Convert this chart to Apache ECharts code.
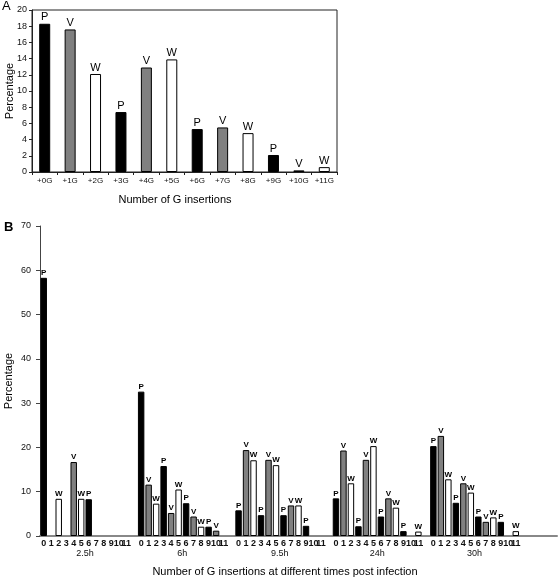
<!DOCTYPE html>
<html>
<head>
<meta charset="utf-8">
<script src="https://cdn.jsdelivr.net/npm/echarts@6/dist/echarts.min.js"></script>
<style>
html,body{margin:0;padding:0;background:#fff;}
#c{width:560px;height:583px;}
</style>
</head>
<body>
<div id="c"></div>
<script>
// ---- Data ----
var topCategories = ['+0G','+1G','+2G','+3G','+4G','+5G','+6G','+7G','+8G','+9G','+10G','+11G'];
var topValues = [18.3, 17.6, 12.1, 7.4, 12.9, 13.9, 5.3, 5.5, 4.8, 2.1, 0.2, 0.6];
var insertionTypes = ['P','V','W','P','V','W','P','V','W','P','V','W'];
var insertionTicks = ['0','1','2','3','4','5','6','7','8','9','10','11'];
var timeLabels = ['2.5h','6h','9.5h','24h','30h'];
var values2_5h = [58.3, null, 8.4, null, 16.7, 8.4, 8.3, null, null, null, null, null];
var values6h   = [32.6, 11.6, 7.3, 15.8, 5.2, 10.5, 7.4, 4.4, 2.1, 2.1, 1.2, null];
var values9_5h = [5.8, 19.4, 17.1, 4.7, 17.2, 16.0, 4.7, 6.9, 6.9, 2.3, null, null];
var values24h  = [8.5, 19.3, 11.9, 2.2, 17.2, 20.3, 4.4, 8.5, 6.4, 1.1, null, 1.0];
var values30h  = [20.3, 22.6, 12.8, 7.5, 11.9, 9.8, 4.4, 3.2, 4.2, 3.2, null, 1.1];
var topTicksY = {min: 0, max: 20, interval: 2};
var bottomTicksY = {min: 0, max: 70, interval: 10};

// ---- Build ----
var FONT = '"Liberation Sans", Arial, sans-serif';
var typeColor = {P: '#000000', V: '#808080', W: '#ffffff'};
var groups = [values2_5h, values6h, values9_5h, values24h, values30h];
var TRAIL = 5;

function item(v, t) {
  if (v === null) return '-';
  return {value: v, itemStyle: {color: typeColor[t], borderColor: '#000', borderWidth: 1}};
}

var topData = topValues.map(function (v, i) { return item(v, insertionTypes[i]); });

var bottomCats = [], bottomData = [], bottomTypes = [];
groups.forEach(function (g, gi) {
  g.forEach(function (v, i) {
    bottomCats.push(insertionTicks[i]);
    bottomData.push(item(v, insertionTypes[i]));
    bottomTypes.push(insertionTypes[i]);
  });
  if (gi < groups.length - 1) { bottomCats.push(''); bottomData.push('-'); bottomTypes.push(''); }
});
for (var k = 0; k < TRAIL; k++) { bottomCats.push(''); bottomData.push('-'); bottomTypes.push(''); }

// group label axis (boundaryGap false, half-category resolution)
var nCat = bottomCats.length;
var groupAxisData = [];
for (var j = 0; j <= nCat * 2; j++) groupAxisData.push('');
timeLabels.forEach(function (t, gi) { groupAxisData[26 * gi + 12] = t; });

var chart = echarts.init(document.getElementById('c'), null, {renderer: 'canvas'});
chart.setOption({
  animation: false,
  backgroundColor: '#fff',
  textStyle: {fontFamily: FONT},
  title: [
    {text: 'A', left: 2, top: 0, padding: 0, textStyle: {fontSize: 13, fontWeight: 'normal', color: '#000', fontFamily: FONT}},
    {text: 'B', left: 4, top: 221, padding: 0, textStyle: {fontSize: 13, fontWeight: 'bold', color: '#000', fontFamily: FONT}},
    {text: 'Number of G insertions', left: 175, top: 194, padding: 0, textAlign: 'center',
      textStyle: {fontSize: 11, fontWeight: 'normal', color: '#000', fontFamily: FONT}},
    {text: 'Number of G insertions at different times post infection', left: 285, top: 566, padding: 0, textAlign: 'center',
      textStyle: {fontSize: 11, fontWeight: 'normal', color: '#000', fontFamily: FONT}}
  ],
  grid: [
    {left: 32, top: 10, width: 305, height: 162, show: true, borderColor: '#222', borderWidth: 1,
      backgroundColor: 'transparent', outerBoundsMode: 'none', containLabel: false},
    {left: 40, top: 226, width: 517, height: 310, outerBoundsMode: 'none', containLabel: false}
  ],
  xAxis: [
    {type: 'category', gridIndex: 0, data: topCategories,
      axisLine: {lineStyle: {color: '#222', width: 1}},
      axisTick: {show: true, length: 3, lineStyle: {color: '#222'}},
      axisLabel: {interval: 0, fontSize: 8, color: '#111', margin: 5}},
    {type: 'category', gridIndex: 1, data: bottomCats,
      axisLine: {lineStyle: {color: '#888', width: 2}},
      axisTick: {show: false},
      axisLabel: {interval: 0, fontSize: 9, fontWeight: 'bold', color: '#111', margin: 3}},
    {type: 'category', gridIndex: 1, data: groupAxisData, boundaryGap: false, position: 'bottom',
      axisLine: {show: false}, axisTick: {show: false},
      axisLabel: {interval: 0, fontSize: 9, color: '#111', margin: 13}}
  ],
  yAxis: [
    {type: 'value', gridIndex: 0, min: topTicksY.min, max: topTicksY.max, interval: topTicksY.interval,
      name: 'Percentage', nameLocation: 'middle', nameGap: 17, nameMoveOverlap: false,
      nameTextStyle: {fontSize: 11, color: '#000'},
      axisLine: {show: true, lineStyle: {color: '#222'}},
      axisTick: {show: true, length: 3, lineStyle: {color: '#222'}},
      axisLabel: {fontSize: 9, color: '#111', margin: 5},
      splitLine: {show: false}},
    {type: 'value', gridIndex: 1, min: bottomTicksY.min, max: bottomTicksY.max, interval: bottomTicksY.interval,
      name: 'Percentage', nameLocation: 'middle', nameGap: 26, nameMoveOverlap: false,
      nameTextStyle: {fontSize: 11, color: '#000'},
      axisLine: {show: true, lineStyle: {color: '#444'}},
      axisTick: {show: true, length: 4, lineStyle: {color: '#444'}},
      axisLabel: {fontSize: 9, color: '#111', margin: 9},
      splitLine: {show: false}}
  ],
  series: [
    {type: 'bar', xAxisIndex: 0, yAxisIndex: 0, data: topData, barWidth: 11,
      label: {show: true, position: 'top', distance: 1, fontSize: 11, color: '#000',
        formatter: function (p) { return insertionTypes[p.dataIndex]; }}},
    {type: 'bar', xAxisIndex: 1, yAxisIndex: 1, data: bottomData, barCategoryGap: '14%',
      label: {show: true, position: 'top', distance: 1, fontSize: 8, fontWeight: 'bold', color: '#000',
        formatter: function (p) { return bottomTypes[p.dataIndex]; }}}
  ]
});
</script>
</body>
</html>
